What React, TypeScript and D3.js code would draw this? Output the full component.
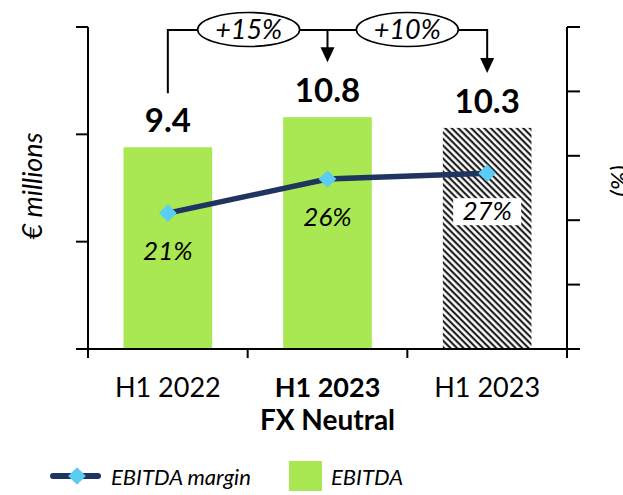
import React from "react";
import * as d3 from "d3";

const categories = ["H1 2022", "H1 2023", "H1 2023"];
const subLabels = ["", "FX Neutral", ""];
const boldCategory = [false, true, false];
const ebitda = [9.4, 10.8, 10.3];
const margin = [0.211, 0.264, 0.273];
const marginLabels = ["21%", "26%", "27%"];
const growthLabels = ["+15%", "+10%"];
const leftTicks = [0, 5, 10, 15];
const rightTicks = [0, 0.1, 0.2, 0.3, 0.4, 0.5];

const W = 623, H = 495;
const X0 = 88, X1 = 567, Y0 = 349, Y1 = 27;
const GREEN = "#A9E853";
const NAVY = "#1F3560";
const CYAN = "#5BCDF2";
const FONT = "Lato, 'Open Sans', sans-serif";

export default function App() {
  const x = d3.scaleBand<number>().domain([0, 1, 2]).range([X0, X1]).paddingInner(0.445).paddingOuter(0.2225);
  const y = d3.scaleLinear().domain([0, 15]).range([Y0, Y1]);
  const y2 = d3.scaleLinear().domain([0, 0.5]).range([Y0, Y1]);
  const cx = (i: number) => (x(i) as number) + x.bandwidth() / 2;
  const line = d3.line<number>().x((_, i) => cx(i)).y((d) => y2(d));
  const step = x.step();
  const diamond = d3.symbol().type(d3.symbolDiamond2).size(200)()!;

  const annY = 30;
  const ell = [
    { cx: (cx(0) + cx(1)) / 2 + 1, rx: 51, label: growthLabels[0] },
    { cx: (cx(1) + cx(2)) / 2, rx: 51, label: growthLabels[1] },
  ];
  const arrow = (xx: number, yTip: number) => `M${xx - 7},${yTip - 15} L${xx + 7},${yTip - 15} L${xx},${yTip} Z`;

  return (
    <svg width={W} height={H} style={{ position: "absolute", left: 0, top: 0, background: "#fff" }} fontFamily={FONT}>
      <defs>
        <pattern id="hatch" patternUnits="userSpaceOnUse" width="4.6" height="4.6" patternTransform="rotate(45)">
          <rect width="4.6" height="4.6" fill="#fff" />
          <line x1="0" y1="1.2" x2="4.6" y2="1.2" stroke="#000" strokeWidth="1.9" />
        </pattern>
      </defs>

      {/* bars */}
      {ebitda.map((v, i) => (
        <rect key={i} x={x(i)} y={y(v)} width={x.bandwidth()} height={Y0 - y(v)} fill={i === 2 ? "url(#hatch)" : GREEN} />
      ))}

      {/* left axis */}
      <line x1={X0} x2={X0} y1={Y1} y2={Y0 + 9} stroke="#000" strokeWidth={2} />
      {leftTicks.map((t) => (
        <line key={t} x1={X0 - 12} x2={X0} y1={y(t)} y2={y(t)} stroke="#000" strokeWidth={2} />
      ))}
      {/* right axis */}
      <line x1={X1} x2={X1} y1={Y1} y2={Y0 + 9} stroke="#000" strokeWidth={2} />
      {rightTicks.map((t) => (
        <line key={t} x1={X1} x2={X1 + 13} y1={y2(t)} y2={y2(t)} stroke="#000" strokeWidth={2} />
      ))}
      {/* bottom axis */}
      <line x1={X0 - 12} x2={X1 + 10} y1={Y0} y2={Y0} stroke="#000" strokeWidth={2} />
      {[0, 1, 2, 3].map((i) => (
        <line key={i} x1={X0 + i * step} x2={X0 + i * step} y1={Y0} y2={Y0 + 9} stroke="#000" strokeWidth={2} />
      ))}

      {/* category labels */}
      {categories.map((c, i) => (
        <g key={i}>
          <text x={cx(i)} y={397} textAnchor="middle" fontSize={27} fontWeight={boldCategory[i] ? 700 : 400} fill="#000">{c}</text>
          {subLabels[i] && (
            <text x={cx(i)} y={430} textAnchor="middle" fontSize={28} fontWeight={700} fill="#000">{subLabels[i]}</text>
          )}
        </g>
      ))}

      {/* value labels */}
      {ebitda.map((v, i) => (
        <text key={i} x={cx(i)} y={y(v) - 15} textAnchor="middle" fontSize={33} fontWeight={700} fill="#000">{v.toFixed(1)}</text>
      ))}

      {/* margin line */}
      <path d={line(margin)!} fill="none" stroke={NAVY} strokeWidth={5.5} strokeLinecap="round" />
      {margin.map((m, i) => (
        <path key={i} d={diamond} transform={`translate(${cx(i)},${y2(m)})`} fill={CYAN} />
      ))}
      {margin.map((m, i) => (
        <g key={i}>
          {i === 2 && <rect x={cx(i) - 34} y={y2(m) + 25} width={68} height={27} fill="#fff" />}
          <text x={cx(i)} y={y2(m) + 47} textAnchor="middle" fontSize={26} fontStyle="italic" fill="#000">{marginLabels[i]}</text>
        </g>
      ))}

      {/* growth annotations */}
      <path d={`M${cx(0)},${y(ebitda[0]) - 54} V${annY} H${ell[0].cx - ell[0].rx}`} fill="none" stroke="#000" strokeWidth={2} />
      <path d={`M${ell[0].cx + ell[0].rx},${annY} H${ell[1].cx - ell[1].rx}`} fill="none" stroke="#000" strokeWidth={2} />
      <path d={`M${cx(1)},${annY} V${y(ebitda[1]) - 62}`} fill="none" stroke="#000" strokeWidth={2} />
      <path d={arrow(cx(1), y(ebitda[1]) - 55)} fill="#000" />
      <path d={`M${ell[1].cx + ell[1].rx},${annY} H${cx(2)} V${y(ebitda[2]) - 62}`} fill="none" stroke="#000" strokeWidth={2} />
      <path d={arrow(cx(2), y(ebitda[2]) - 55)} fill="#000" />
      {ell.map((e, i) => (
        <g key={i}>
          <ellipse cx={e.cx} cy={annY - 0.5} rx={e.rx} ry={17} fill="#fff" stroke="#000" strokeWidth={1.6} />
          <text x={e.cx} y={annY + 9} textAnchor="middle" fontSize={27} fontStyle="italic" fill="#000">{e.label}</text>
        </g>
      ))}

      {/* axis titles */}
      <text transform={`translate(42,186) rotate(-90)`} textAnchor="middle" fontSize={27} fontStyle="italic" fill="#000">€ millions</text>
      <text transform={`translate(629,181) rotate(-90)`} textAnchor="middle" fontSize={25} fontStyle="italic" fill="#000">(%)</text>

      {/* legend */}
      <line x1={53} x2={98} y1={476} y2={476} stroke={NAVY} strokeWidth={6} strokeLinecap="round" />
      <path d={diamond} transform={`translate(77,476)`} fill={CYAN} />
      <text x={111} y={485} fontSize={22} fontStyle="italic" fill="#000">EBITDA margin</text>
      <rect x={289} y={461} width={33} height={30} fill={GREEN} />
      <text x={331} y={485} fontSize={22} fontStyle="italic" fill="#000">EBITDA</text>
    </svg>
  );
}
